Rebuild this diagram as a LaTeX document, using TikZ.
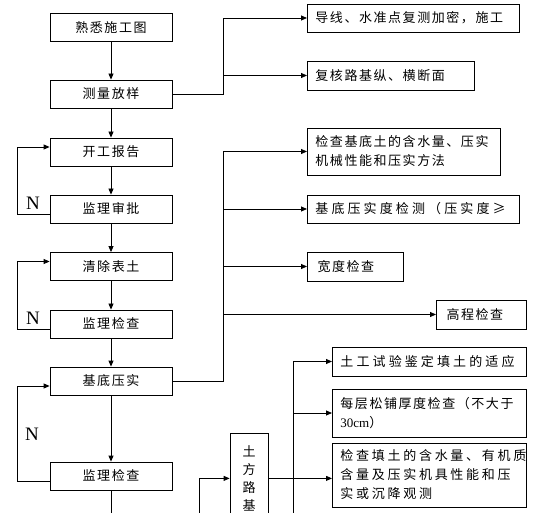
\documentclass[tikz,border=0pt]{standalone}
\usepackage{fontspec}
\setmainfont{Liberation Serif}
\newfontfamily\cjk[LetterSpace=12]{Noto Sans CJK SC}
\usetikzlibrary{
	arrows.meta,
	calc
}

\tikzset{
    mainbox/.style={draw, minimum width=122, minimum height=28, inner sep=0,
        font=\cjk\fontsize{13}{19}\selectfont},
    sidebox/.style={draw, anchor=west, align=left, inner xsep=8, inner ysep=0,
        font=\cjk\fontsize{13}{19}\selectfont},
    widebox/.style={sidebox, font=\cjk\addfontfeature{LetterSpace=24}\fontsize{13}{19}\selectfont},
    nlabel/.style={inner sep=0, font=\fontsize{19}{19}\selectfont}
}

\begin{document}
\begin{tikzpicture}[x=1pt, y=-1pt, line width=0.8pt, >={Triangle[length=6pt,width=5pt]}]
    % Page
    \clip (0,0) rectangle (560,513);
    \fill[white] (0,0) rectangle (560,513);
    % Main column
    \node[mainbox] (n1) at (111,27.5) {熟悉施工图};
    \node[mainbox] (n2) at (111,94)   {测量放样};
    \node[mainbox] (n3) at (111,152)  {开工报告};
    \node[mainbox] (n4) at (111,209)  {监理审批};
    \node[mainbox] (n5) at (111,266.5){清除表土};
    \node[mainbox] (n6) at (111,324)  {监理检查};
    \node[mainbox] (n7) at (111,381)  {基底压实};
    \node[mainbox] (n8) at (111,476)  {监理检查};
    \coordinate (out) at (111,520);
    % Side boxes
    \node[sidebox, text width=196, minimum height=28] (r1) at (307,18)  {导线、水准点复测加密，施工};
    \node[sidebox, text width=151, minimum height=29] (r2) at (307,75.5){复核路基纵、横断面};
    \node[sidebox, text width=177, minimum height=47] (r3) at (307,151.5){检查基底土的含水量、压实\\机械性能和压实方法};
    \node[widebox, text width=196, minimum height=28] (r4) at (307,209) {基底压实度检测（压实度≥};
    \node[sidebox, text width=80,  minimum height=29] (r5) at (307,266.5){\,宽度检查};
    \node[sidebox, text width=74,  minimum height=29] (r6) at (436,314.5){\,高程检查};
    % Fill boxes
    \node[draw, anchor=north, minimum width=38, minimum height=90, inner sep=0, align=center,
        font=\cjk\addfontfeature{LetterSpace=0}\fontsize{13}{18}\selectfont] (tf) at (249,433) {土\\方\\路\\基};
    \node[widebox, text width=178, minimum height=29] (b1) at (332,361.5){土工试验鉴定填土的适应};
    \node[sidebox, text width=178, minimum height=48] (b2) at (332,413)  {每层松铺厚度检查（不大于\\{\rmfamily 30cm}）};
    \node[sidebox, text width=178, minimum height=64,
        font=\cjk\addfontfeature{LetterSpace=21}\fontsize{13}{19}\selectfont] (b3) at (332,475)
        {检查填土的含水量、有机质\\含量及压实机具性能和压\\实或沉降观测};
    % Main flow
    \foreach \a/\b in {n1/n2, n2/n3, n3/n4, n4/n5, n5/n6, n6/n7, n7/n8}
        \draw[->] (\a.south) -- (\b.north);
    \draw (n8.south) -- (out);
    % Return loops
    \draw[->] ([yshift=-5pt]n4.west) -- ++(-32,0) |- ([yshift=5pt]n3.west);
    \draw[->] ([yshift=-5pt]n6.west) -- ++(-32,0) |- ([yshift=5pt]n5.west);
    \draw[->] ([yshift=-5pt]n8.west) -- ++(-32,0) |- ([yshift=-5pt]n7.west);
    \node[nlabel] (N1) at (33,203) {N};
    \node[nlabel] (N2) at (33,318) {N};
    \node[nlabel] (N3) at (32,434) {N};
    % Survey branches
    \coordinate (j1) at (223,94);
    \draw[->] (n2.east) -- (j1) |- (r1.west);
    \draw[->] (j1) |- (r2.west);
    % Compaction branches
    \coordinate (j2) at (223,381);
    \draw[->] (n7.east) -- (j2) |- (r3.west);
    \foreach \b in {r4, r5, r6}
        \draw[->] (j2) |- (\b.west);
    % Fill branches
    \coordinate (in1) at (199,520);
    \coordinate (j3)  at (293,520);
    \draw[->] (in1) |- (tf.west);
    \draw[->] (tf.east) -- (tf.east -| b3.west);
    \draw[->] (j3) |- (b1.west);
    \draw[->] (j3) |- (b2.west);
\end{tikzpicture}
\end{document}
